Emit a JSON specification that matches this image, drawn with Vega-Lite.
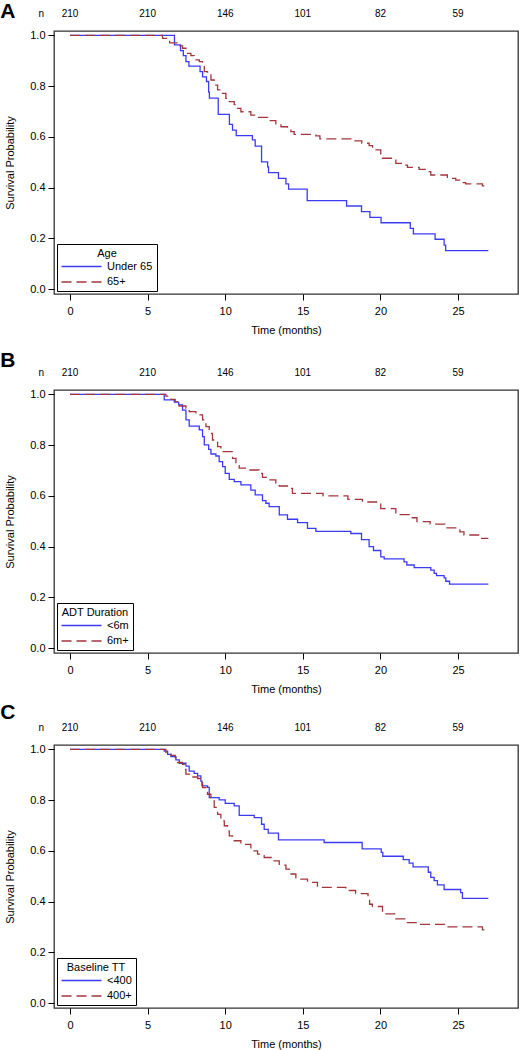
{
  "$schema": "https://vega.github.io/schema/vega-lite/v6.json",
  "padding": {"left": -1, "top": 0, "right": 0, "bottom": 0},
  "background": "white",
  "config": {
    "font": "Liberation Sans",
    "view": {"stroke": "#333333", "strokeWidth": 1.3},
    "axis": {"grid": false, "domain": false, "labelFontSize": 11, "titleFontSize": 11, "titleFontWeight": "normal", "labelColor": "black", "titleColor": "black", "tickColor": "black", "tickSize": 6, "tickWidth": 1},
    "axisX": {"labelPadding": 5, "titlePadding": 8},
    "axisY": {"labelPadding": 3, "titlePadding": 14},
    "legend": {"orient": "bottom-left", "offset": 3, "strokeColor": "black", "fillColor": "white", "padding": 4, "titleFontWeight": "normal", "titleFontSize": 11, "labelFontSize": 11, "titleColor": "black", "labelColor": "black", "titleAnchor": "middle", "titleAlign": "center", "symbolType": "M-5,0H5", "symbolSize": 64, "symbolStrokeWidth": 1.3, "symbolOffset": 15, "labelOffset": 20, "rowPadding": 3.5, "titlePadding": 2, "cornerRadius": 0},
    "text": {"color": "black"}
  },
  "datasets": {
    "nrow": [{"t": 0, "n": "210"}, {"t": 5, "n": "210"}, {"t": 10, "n": "146"}, {"t": 15, "n": "101"}, {"t": 20, "n": "82"}, {"t": 25, "n": "59"}],
    "A": [
      {"g": "Under 65", "t": 0, "s": 1}, {"g": "Under 65", "t": 6.73, "s": 0.962}, {"g": "Under 65", "t": 7.12, "s": 0.94}, {"g": "Under 65", "t": 7.3, "s": 0.92}, {"g": "Under 65", "t": 7.47, "s": 0.896}, {"g": "Under 65", "t": 7.66, "s": 0.879}, {"g": "Under 65", "t": 8.38, "s": 0.857}, {"g": "Under 65", "t": 8.54, "s": 0.836}, {"g": "Under 65", "t": 8.79, "s": 0.818}, {"g": "Under 65", "t": 8.93, "s": 0.776}, {"g": "Under 65", "t": 8.98, "s": 0.753}, {"g": "Under 65", "t": 9.55, "s": 0.689}, {"g": "Under 65", "t": 10.27, "s": 0.649}, {"g": "Under 65", "t": 10.47, "s": 0.627}, {"g": "Under 65", "t": 10.71, "s": 0.605}, {"g": "Under 65", "t": 11.75, "s": 0.588}, {"g": "Under 65", "t": 11.93, "s": 0.564}, {"g": "Under 65", "t": 12.34, "s": 0.502}, {"g": "Under 65", "t": 12.73, "s": 0.482}, {"g": "Under 65", "t": 12.79, "s": 0.459}, {"g": "Under 65", "t": 13.43, "s": 0.437}, {"g": "Under 65", "t": 13.91, "s": 0.415}, {"g": "Under 65", "t": 14.08, "s": 0.394}, {"g": "Under 65", "t": 15.28, "s": 0.349}, {"g": "Under 65", "t": 17.82, "s": 0.328}, {"g": "Under 65", "t": 18.78, "s": 0.306}, {"g": "Under 65", "t": 19.32, "s": 0.283}, {"g": "Under 65", "t": 20.04, "s": 0.262}, {"g": "Under 65", "t": 21.92, "s": 0.24}, {"g": "Under 65", "t": 22.12, "s": 0.218}, {"g": "Under 65", "t": 23.52, "s": 0.197}, {"g": "Under 65", "t": 24.1, "s": 0.174}, {"g": "Under 65", "t": 24.2, "s": 0.152}, {"g": "Under 65", "t": 26.95, "s": 0.152},
      {"g": "65+", "t": 0, "s": 1}, {"g": "65+", "t": 5.96, "s": 0.988}, {"g": "65+", "t": 6.42, "s": 0.97}, {"g": "65+", "t": 6.9, "s": 0.958}, {"g": "65+", "t": 7.25, "s": 0.949}, {"g": "65+", "t": 7.47, "s": 0.929}, {"g": "65+", "t": 7.79, "s": 0.92}, {"g": "65+", "t": 8.0, "s": 0.903}, {"g": "65+", "t": 8.33, "s": 0.896}, {"g": "65+", "t": 8.54, "s": 0.877}, {"g": "65+", "t": 8.65, "s": 0.857}, {"g": "65+", "t": 8.86, "s": 0.844}, {"g": "65+", "t": 9.08, "s": 0.824}, {"g": "65+", "t": 9.29, "s": 0.804}, {"g": "65+", "t": 9.51, "s": 0.785}, {"g": "65+", "t": 9.72, "s": 0.771}, {"g": "65+", "t": 10.04, "s": 0.752}, {"g": "65+", "t": 10.26, "s": 0.739}, {"g": "65+", "t": 10.58, "s": 0.727}, {"g": "65+", "t": 10.79, "s": 0.712}, {"g": "65+", "t": 11.01, "s": 0.699}, {"g": "65+", "t": 11.65, "s": 0.686}, {"g": "65+", "t": 11.97, "s": 0.677}, {"g": "65+", "t": 12.73, "s": 0.664}, {"g": "65+", "t": 13.26, "s": 0.647}, {"g": "65+", "t": 13.59, "s": 0.64}, {"g": "65+", "t": 14.01, "s": 0.632}, {"g": "65+", "t": 14.23, "s": 0.621}, {"g": "65+", "t": 14.44, "s": 0.61}, {"g": "65+", "t": 15.84, "s": 0.604}, {"g": "65+", "t": 16.1, "s": 0.592}, {"g": "65+", "t": 18.09, "s": 0.584}, {"g": "65+", "t": 18.8, "s": 0.575}, {"g": "65+", "t": 19.27, "s": 0.566}, {"g": "65+", "t": 19.49, "s": 0.549}, {"g": "65+", "t": 20.02, "s": 0.529}, {"g": "65+", "t": 20.13, "s": 0.516}, {"g": "65+", "t": 20.99, "s": 0.496}, {"g": "65+", "t": 21.42, "s": 0.489}, {"g": "65+", "t": 21.74, "s": 0.48}, {"g": "65+", "t": 22.49, "s": 0.472}, {"g": "65+", "t": 23.03, "s": 0.463}, {"g": "65+", "t": 23.24, "s": 0.45}, {"g": "65+", "t": 24.31, "s": 0.437}, {"g": "65+", "t": 24.85, "s": 0.43}, {"g": "65+", "t": 25.17, "s": 0.42}, {"g": "65+", "t": 25.49, "s": 0.415}, {"g": "65+", "t": 26.57, "s": 0.407}, {"g": "65+", "t": 26.95, "s": 0.407}
    ],
    "B": [
      {"g": "<6m", "t": 0, "s": 1}, {"g": "<6m", "t": 6.07, "s": 0.978}, {"g": "<6m", "t": 6.72, "s": 0.969}, {"g": "<6m", "t": 7.0, "s": 0.958}, {"g": "<6m", "t": 7.25, "s": 0.938}, {"g": "<6m", "t": 7.47, "s": 0.899}, {"g": "<6m", "t": 7.68, "s": 0.875}, {"g": "<6m", "t": 8.33, "s": 0.86}, {"g": "<6m", "t": 8.54, "s": 0.833}, {"g": "<6m", "t": 8.65, "s": 0.801}, {"g": "<6m", "t": 8.93, "s": 0.783}, {"g": "<6m", "t": 9.08, "s": 0.765}, {"g": "<6m", "t": 9.4, "s": 0.757}, {"g": "<6m", "t": 9.61, "s": 0.735}, {"g": "<6m", "t": 9.83, "s": 0.715}, {"g": "<6m", "t": 10.0, "s": 0.689}, {"g": "<6m", "t": 10.26, "s": 0.665}, {"g": "<6m", "t": 10.58, "s": 0.656}, {"g": "<6m", "t": 11.01, "s": 0.643}, {"g": "<6m", "t": 11.65, "s": 0.623}, {"g": "<6m", "t": 11.93, "s": 0.604}, {"g": "<6m", "t": 12.4, "s": 0.581}, {"g": "<6m", "t": 12.62, "s": 0.571}, {"g": "<6m", "t": 12.83, "s": 0.558}, {"g": "<6m", "t": 13.48, "s": 0.525}, {"g": "<6m", "t": 14.01, "s": 0.508}, {"g": "<6m", "t": 14.66, "s": 0.495}, {"g": "<6m", "t": 15.3, "s": 0.472}, {"g": "<6m", "t": 15.84, "s": 0.46}, {"g": "<6m", "t": 18.09, "s": 0.452}, {"g": "<6m", "t": 18.78, "s": 0.428}, {"g": "<6m", "t": 19.27, "s": 0.4}, {"g": "<6m", "t": 19.55, "s": 0.385}, {"g": "<6m", "t": 20.02, "s": 0.36}, {"g": "<6m", "t": 20.24, "s": 0.352}, {"g": "<6m", "t": 21.52, "s": 0.34}, {"g": "<6m", "t": 21.7, "s": 0.328}, {"g": "<6m", "t": 22.17, "s": 0.318}, {"g": "<6m", "t": 23.24, "s": 0.308}, {"g": "<6m", "t": 23.46, "s": 0.295}, {"g": "<6m", "t": 23.61, "s": 0.286}, {"g": "<6m", "t": 24.1, "s": 0.277}, {"g": "<6m", "t": 24.21, "s": 0.264}, {"g": "<6m", "t": 24.45, "s": 0.253}, {"g": "<6m", "t": 26.95, "s": 0.253},
      {"g": "6m+", "t": 0, "s": 1}, {"g": "6m+", "t": 6.18, "s": 0.993}, {"g": "6m+", "t": 6.5, "s": 0.98}, {"g": "6m+", "t": 6.78, "s": 0.971}, {"g": "6m+", "t": 7.04, "s": 0.954}, {"g": "6m+", "t": 7.47, "s": 0.945}, {"g": "6m+", "t": 7.68, "s": 0.932}, {"g": "6m+", "t": 8.11, "s": 0.919}, {"g": "6m+", "t": 8.54, "s": 0.899}, {"g": "6m+", "t": 8.76, "s": 0.873}, {"g": "6m+", "t": 8.97, "s": 0.846}, {"g": "6m+", "t": 9.18, "s": 0.82}, {"g": "6m+", "t": 9.51, "s": 0.794}, {"g": "6m+", "t": 9.72, "s": 0.774}, {"g": "6m+", "t": 10.47, "s": 0.748}, {"g": "6m+", "t": 10.69, "s": 0.728}, {"g": "6m+", "t": 10.9, "s": 0.709}, {"g": "6m+", "t": 11.55, "s": 0.702}, {"g": "6m+", "t": 12.19, "s": 0.689}, {"g": "6m+", "t": 12.4, "s": 0.673}, {"g": "6m+", "t": 12.83, "s": 0.663}, {"g": "6m+", "t": 13.26, "s": 0.65}, {"g": "6m+", "t": 13.48, "s": 0.639}, {"g": "6m+", "t": 14.01, "s": 0.63}, {"g": "6m+", "t": 14.33, "s": 0.61}, {"g": "6m+", "t": 16.3, "s": 0.6}, {"g": "6m+", "t": 17.9, "s": 0.586}, {"g": "6m+", "t": 18.84, "s": 0.576}, {"g": "6m+", "t": 20.02, "s": 0.55}, {"g": "6m+", "t": 20.99, "s": 0.526}, {"g": "6m+", "t": 21.85, "s": 0.514}, {"g": "6m+", "t": 22.35, "s": 0.499}, {"g": "6m+", "t": 23.2, "s": 0.489}, {"g": "6m+", "t": 24.15, "s": 0.474}, {"g": "6m+", "t": 25.12, "s": 0.458}, {"g": "6m+", "t": 25.38, "s": 0.446}, {"g": "6m+", "t": 26.4, "s": 0.433}, {"g": "6m+", "t": 26.95, "s": 0.433}
    ],
    "C": [
      {"g": "<400", "t": 0, "s": 1}, {"g": "<400", "t": 6.07, "s": 0.993}, {"g": "<400", "t": 6.29, "s": 0.98}, {"g": "<400", "t": 6.5, "s": 0.971}, {"g": "<400", "t": 6.82, "s": 0.958}, {"g": "<400", "t": 7.04, "s": 0.945}, {"g": "<400", "t": 7.47, "s": 0.934}, {"g": "<400", "t": 7.68, "s": 0.914}, {"g": "<400", "t": 8.0, "s": 0.905}, {"g": "<400", "t": 8.22, "s": 0.895}, {"g": "<400", "t": 8.43, "s": 0.875}, {"g": "<400", "t": 8.5, "s": 0.856}, {"g": "<400", "t": 8.86, "s": 0.85}, {"g": "<400", "t": 8.97, "s": 0.81}, {"g": "<400", "t": 9.61, "s": 0.801}, {"g": "<400", "t": 10.0, "s": 0.787}, {"g": "<400", "t": 10.58, "s": 0.777}, {"g": "<400", "t": 10.9, "s": 0.74}, {"g": "<400", "t": 11.87, "s": 0.731}, {"g": "<400", "t": 12.34, "s": 0.705}, {"g": "<400", "t": 12.51, "s": 0.685}, {"g": "<400", "t": 12.77, "s": 0.67}, {"g": "<400", "t": 13.43, "s": 0.643}, {"g": "<400", "t": 16.37, "s": 0.633}, {"g": "<400", "t": 18.82, "s": 0.608}, {"g": "<400", "t": 20.05, "s": 0.594}, {"g": "<400", "t": 20.15, "s": 0.579}, {"g": "<400", "t": 21.47, "s": 0.566}, {"g": "<400", "t": 21.85, "s": 0.552}, {"g": "<400", "t": 22.1, "s": 0.537}, {"g": "<400", "t": 23.08, "s": 0.516}, {"g": "<400", "t": 23.24, "s": 0.496}, {"g": "<400", "t": 23.46, "s": 0.483}, {"g": "<400", "t": 23.67, "s": 0.466}, {"g": "<400", "t": 24.1, "s": 0.448}, {"g": "<400", "t": 25.17, "s": 0.436}, {"g": "<400", "t": 25.28, "s": 0.413}, {"g": "<400", "t": 26.95, "s": 0.413},
      {"g": "400+", "t": 0, "s": 1}, {"g": "400+", "t": 6.18, "s": 0.987}, {"g": "400+", "t": 6.5, "s": 0.976}, {"g": "400+", "t": 6.78, "s": 0.967}, {"g": "400+", "t": 6.93, "s": 0.948}, {"g": "400+", "t": 7.25, "s": 0.941}, {"g": "400+", "t": 7.36, "s": 0.921}, {"g": "400+", "t": 7.47, "s": 0.902}, {"g": "400+", "t": 7.79, "s": 0.891}, {"g": "400+", "t": 8.22, "s": 0.885}, {"g": "400+", "t": 8.43, "s": 0.869}, {"g": "400+", "t": 8.54, "s": 0.849}, {"g": "400+", "t": 8.86, "s": 0.823}, {"g": "400+", "t": 9.08, "s": 0.797}, {"g": "400+", "t": 9.29, "s": 0.771}, {"g": "400+", "t": 9.51, "s": 0.744}, {"g": "400+", "t": 9.72, "s": 0.718}, {"g": "400+", "t": 9.94, "s": 0.699}, {"g": "400+", "t": 10.15, "s": 0.679}, {"g": "400+", "t": 10.26, "s": 0.659}, {"g": "400+", "t": 10.47, "s": 0.64}, {"g": "400+", "t": 11.01, "s": 0.626}, {"g": "400+", "t": 11.65, "s": 0.6}, {"g": "400+", "t": 12.08, "s": 0.587}, {"g": "400+", "t": 12.51, "s": 0.574}, {"g": "400+", "t": 13.05, "s": 0.561}, {"g": "400+", "t": 13.48, "s": 0.544}, {"g": "400+", "t": 13.91, "s": 0.528}, {"g": "400+", "t": 14.12, "s": 0.509}, {"g": "400+", "t": 14.55, "s": 0.489}, {"g": "400+", "t": 15.3, "s": 0.476}, {"g": "400+", "t": 15.94, "s": 0.456}, {"g": "400+", "t": 17.77, "s": 0.444}, {"g": "400+", "t": 18.4, "s": 0.432}, {"g": "400+", "t": 19.2, "s": 0.424}, {"g": "400+", "t": 19.3, "s": 0.39}, {"g": "400+", "t": 19.48, "s": 0.381}, {"g": "400+", "t": 20.13, "s": 0.352}, {"g": "400+", "t": 20.99, "s": 0.332}, {"g": "400+", "t": 21.63, "s": 0.318}, {"g": "400+", "t": 22.38, "s": 0.311}, {"g": "400+", "t": 24.13, "s": 0.301}, {"g": "400+", "t": 26.57, "s": 0.289}, {"g": "400+", "t": 26.95, "s": 0.289}
    ]
  },
  "resolve": {"scale": {"color": "independent", "strokeDash": "independent"}, "legend": {"color": "independent", "strokeDash": "independent"}},
  "spacing": 13,
  "vconcat": [
    {
      "width": 464, "height": 263,
      "layer": [
        {"data": {"name": "A"}, "mark": {"type": "line", "interpolate": "step-after", "strokeWidth": 1.3},
         "encoding": {
           "x": {"field": "t", "type": "quantitative", "scale": {"domain": [-1.03, 28.86], "nice": false, "zero": false}, "axis": {"title": "Time (months)", "values": [0, 5, 10, 15, 20, 25]}},
           "y": {"field": "s", "type": "quantitative", "scale": {"domain": [-0.0185, 1.0169], "nice": false, "zero": false}, "axis": {"title": "Survival Probability", "values": [0, 0.2, 0.4, 0.6, 0.8, 1], "format": ".1f"}},
           "color": {"field": "g", "type": "nominal", "scale": {"domain": ["Under 65", "65+"], "range": ["#3b3bf6", "#a3363c"]}, "legend": {"title": "Age"}},
           "strokeDash": {"field": "g", "type": "nominal", "scale": {"domain": ["Under 65", "65+"], "range": [[1, 0], [10, 5]]}, "legend": {"title": "Age"}}
         }},
        {"data": {"name": "nrow"}, "mark": {"type": "text", "fontSize": 10, "baseline": "middle"},
         "encoding": {"x": {"field": "t", "type": "quantitative"}, "y": {"datum": 1.085}, "text": {"field": "n"}}},
        {"data": {"values": [{}]}, "mark": {"type": "text", "text": "n", "fontSize": 10, "baseline": "middle"},
         "encoding": {"x": {"datum": -1.85}, "y": {"datum": 1.085}}},
        {"data": {"values": [{}]}, "mark": {"type": "text", "text": "A", "fontSize": 21, "fontWeight": "bold", "baseline": "middle"},
         "encoding": {"x": {"datum": -4.0}, "y": {"datum": 1.09}}}
      ]
    },
    {
      "resolve": {"scale": {"color": "independent", "strokeDash": "independent"}, "legend": {"color": "independent", "strokeDash": "independent"}},
      "spacing": 6,
      "vconcat": [
        {
          "width": 464, "height": 263,
          "layer": [
            {"data": {"name": "B"}, "mark": {"type": "line", "interpolate": "step-after", "strokeWidth": 1.3},
             "encoding": {
               "x": {"field": "t", "type": "quantitative", "scale": {"domain": [-1.03, 28.86], "nice": false, "zero": false}, "axis": {"title": "Time (months)", "values": [0, 5, 10, 15, 20, 25]}},
               "y": {"field": "s", "type": "quantitative", "scale": {"domain": [-0.0185, 1.0169], "nice": false, "zero": false}, "axis": {"title": "Survival Probability", "values": [0, 0.2, 0.4, 0.6, 0.8, 1], "format": ".1f"}},
               "color": {"field": "g", "type": "nominal", "scale": {"domain": ["<6m", "6m+"], "range": ["#3b3bf6", "#a3363c"]}, "legend": {"title": "ADT Duration"}},
               "strokeDash": {"field": "g", "type": "nominal", "scale": {"domain": ["<6m", "6m+"], "range": [[1, 0], [10, 5]]}, "legend": {"title": "ADT Duration"}}
             }},
            {"data": {"name": "nrow"}, "mark": {"type": "text", "fontSize": 10, "baseline": "middle"},
             "encoding": {"x": {"field": "t", "type": "quantitative"}, "y": {"datum": 1.085}, "text": {"field": "n"}}},
            {"data": {"values": [{}]}, "mark": {"type": "text", "text": "n", "fontSize": 10, "baseline": "middle"},
             "encoding": {"x": {"datum": -1.85}, "y": {"datum": 1.085}}},
            {"data": {"values": [{}]}, "mark": {"type": "text", "text": "B", "fontSize": 21, "fontWeight": "bold", "baseline": "middle"},
             "encoding": {"x": {"datum": -4.0}, "y": {"datum": 1.132}}}
          ]
        },
        {
          "width": 464, "height": 263,
          "layer": [
            {"data": {"name": "C"}, "mark": {"type": "line", "interpolate": "step-after", "strokeWidth": 1.3},
             "encoding": {
               "x": {"field": "t", "type": "quantitative", "scale": {"domain": [-1.03, 28.86], "nice": false, "zero": false}, "axis": {"title": "Time (months)", "values": [0, 5, 10, 15, 20, 25]}},
               "y": {"field": "s", "type": "quantitative", "scale": {"domain": [-0.0185, 1.0169], "nice": false, "zero": false}, "axis": {"title": "Survival Probability", "values": [0, 0.2, 0.4, 0.6, 0.8, 1], "format": ".1f"}},
               "color": {"field": "g", "type": "nominal", "scale": {"domain": ["<400", "400+"], "range": ["#3b3bf6", "#a3363c"]}, "legend": {"title": "Baseline TT"}},
               "strokeDash": {"field": "g", "type": "nominal", "scale": {"domain": ["<400", "400+"], "range": [[1, 0], [10, 5]]}, "legend": {"title": "Baseline TT"}}
             }},
            {"data": {"name": "nrow"}, "mark": {"type": "text", "fontSize": 10, "baseline": "middle"},
             "encoding": {"x": {"field": "t", "type": "quantitative"}, "y": {"datum": 1.085}, "text": {"field": "n"}}},
            {"data": {"values": [{}]}, "mark": {"type": "text", "text": "n", "fontSize": 10, "baseline": "middle"},
             "encoding": {"x": {"datum": -1.85}, "y": {"datum": 1.085}}},
            {"data": {"values": [{}]}, "mark": {"type": "text", "text": "C", "fontSize": 21, "fontWeight": "bold", "baseline": "middle"},
             "encoding": {"x": {"datum": -4.0}, "y": {"datum": 1.141}}}
          ]
        }
      ]
    }
  ]
}
